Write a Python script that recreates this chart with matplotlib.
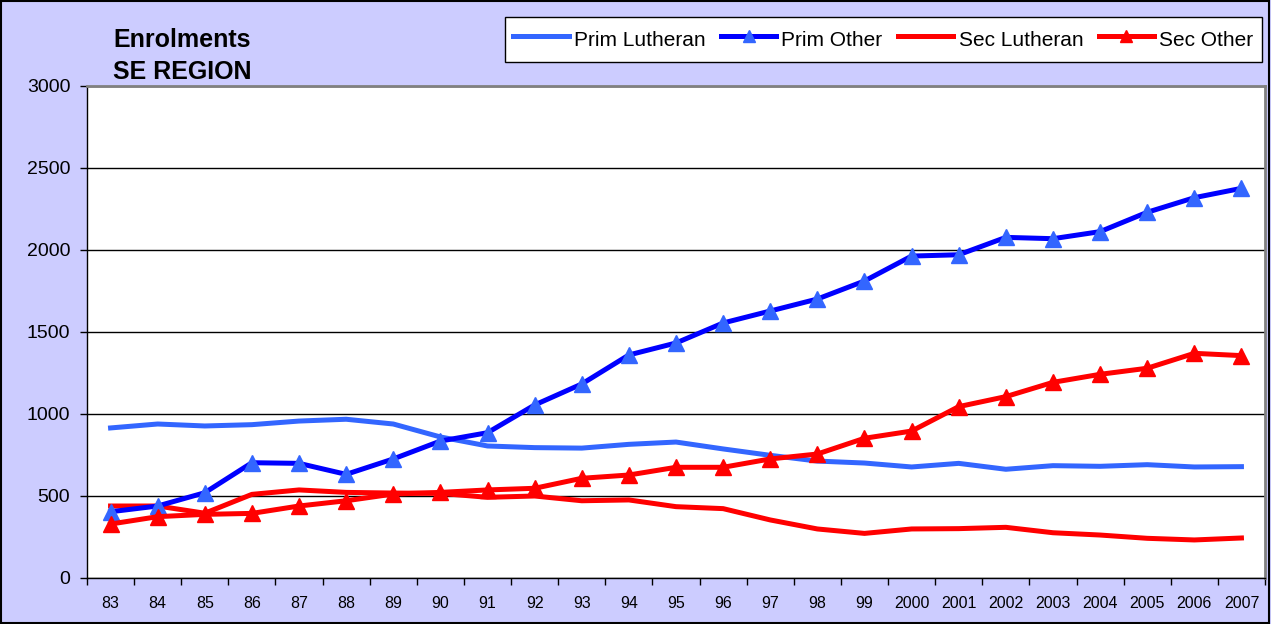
import matplotlib
matplotlib.use("Agg")
import matplotlib.pyplot as plt
from matplotlib.patches import Rectangle

plt.rcParams['font.family'] = ['Liberation Sans', 'DejaVu Sans']

years = ["83", "84", "85", "86", "87", "88", "89", "90", "91", "92", "93", "94", "95",
         "96", "97", "98", "99", "2000", "2001", "2002", "2003", "2004", "2005", "2006", "2007"]

prim_lutheran = [915, 939, 927, 935, 957, 968, 939, 860, 805, 795, 792, 815, 829,
                 787, 748, 713, 701, 677, 699, 663, 685, 681, 691, 677, 679]
prim_other = [404, 439, 520, 703, 699, 632, 726, 835, 886, 1055, 1183, 1360, 1433,
              1555, 1628, 1701, 1811, 1963, 1971, 2077, 2069, 2112, 2230, 2319, 2376]
sec_lutheran = [439, 439, 395, 510, 537, 522, 518, 516, 492, 500, 471, 476, 435,
                423, 354, 299, 272, 299, 301, 309, 276, 262, 242, 232, 244]
sec_other = [329, 374, 388, 394, 439, 471, 512, 522, 537, 547, 608, 628, 675,
             675, 726, 756, 852, 896, 1045, 1106, 1193, 1242, 1279, 1370, 1356]

W, H = 1271, 624
fig = plt.figure(figsize=(W / 100, H / 100), dpi=100)
fig.patch.set_facecolor('#CCCCFF')
fig.patches.append(Rectangle((0.0005, 0.001), 0.998, 0.997, transform=fig.transFigure,
                             fill=False, edgecolor='black', linewidth=1.5))

ax = fig.add_axes([87 / W, 1 - 578 / H, (1265 - 87) / W, (578 - 86) / H])
ax.set_facecolor('white')

x = [i + 0.5 for i in range(len(years))]
lw = 3.6
ms = 11
ax.plot(x, prim_lutheran, color='#3366FF', lw=lw, label='Prim Lutheran', zorder=3)
ax.plot(x, prim_other, color='#0000FF', lw=lw, marker='^', markersize=ms,
        markerfacecolor='#3366FF', markeredgecolor='#3366FF', label='Prim Other', zorder=4)
ax.plot(x, sec_lutheran, color='#FF0000', lw=lw, label='Sec Lutheran', zorder=3)
ax.plot(x, sec_other, color='#FF0000', lw=lw, marker='^', markersize=ms,
        markerfacecolor='#FF0000', markeredgecolor='#FF0000', label='Sec Other', zorder=5)

ax.set_xlim(0, len(years))
ax.set_ylim(0, 3000)
ax.set_yticks(range(0, 3001, 500))
ax.yaxis.grid(True, color='black', linewidth=1)
ax.set_axisbelow(True)

ax.set_xticks(range(0, len(years) + 1))
ax.set_xticklabels([])
ax.set_xticks(x, minor=True)
ax.set_xticklabels(years, minor=True)
ax.tick_params(axis='x', which='minor', length=0, labelsize=11.5, pad=13)
ax.tick_params(axis='x', which='major', length=5, width=1, direction='out')
ax.tick_params(axis='y', length=5, width=1, direction='out', labelsize=14, pad=7)

for s in ['left', 'bottom']:
    ax.spines[s].set_color('black')
    ax.spines[s].set_linewidth(1)
for s in ['top', 'right']:
    ax.spines[s].set_color('#808080')
    ax.spines[s].set_linewidth(2)

fig.text(113 / W, 1 - 40 / H, 'Enrolments', fontsize=18, fontweight='bold', va='center', ha='left')
fig.text(113 / W, 1 - 72 / H, 'SE REGION', fontsize=18, fontweight='bold', va='center', ha='left')

leg = ax.legend(loc='upper left', bbox_to_anchor=(505 / W, 1 - 17 / H),
                bbox_transform=fig.transFigure, borderaxespad=0, ncol=4, fontsize=15,
                frameon=True, fancybox=False, handlelength=2.65, handletextpad=0.25,
                columnspacing=0.75, borderpad=0.4, handleheight=1.75, markerscale=0.85)
leg.get_frame().set_edgecolor('black')
leg.get_frame().set_linewidth(1)
leg.get_frame().set_facecolor('white')
leg.get_frame().set_alpha(1)

fig.savefig('out.png', dpi=100, facecolor=fig.get_facecolor())
